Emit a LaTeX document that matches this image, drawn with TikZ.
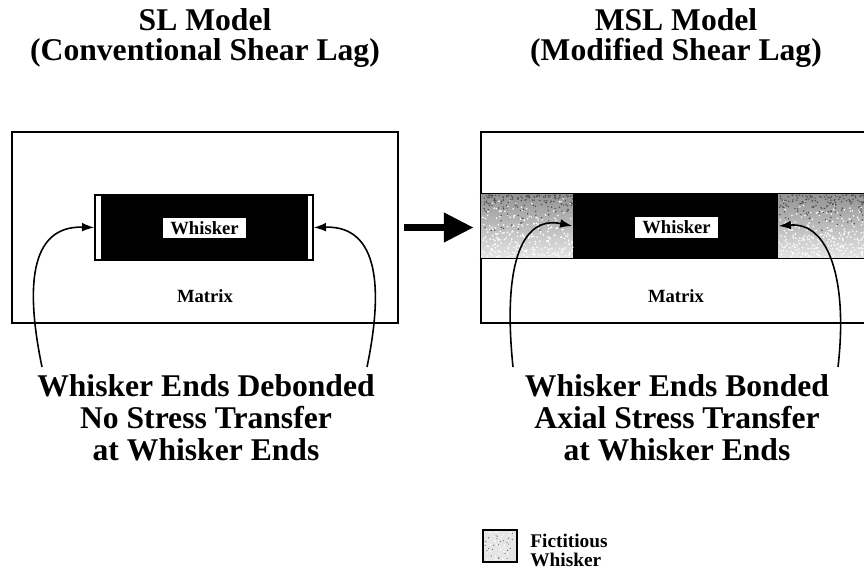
\documentclass[tikz,border=0pt]{standalone}
\usepackage{fontspec}
\setmainfont{Liberation Serif}
\usetikzlibrary{arrows.meta}

\tikzset{
  box/.style={draw, line width=1.6pt, inner sep=0pt},
  whisker/.style={draw, line width=0.8pt, inner sep=0pt},
  tag/.style={fill=white, draw, line width=0.6pt, inner sep=0pt, minimum width=1.7cm, minimum height=0.44cm, font=\fontsize{10.6}{12}\selectfont\bfseries},
  small/.style={inner sep=0pt, font=\fontsize{10.6}{12}\selectfont\bfseries},
  title/.style={align=center, inner sep=0pt, anchor=north, font=\fontsize{18}{17.4}\selectfont\bfseries},
  caption/.style={align=center, inner sep=0pt, anchor=north, font=\fontsize{18}{18.2}\selectfont\bfseries},
  endarrow/.style={line width=0.9pt, -{Latex[length=7pt,width=5pt]}},
  bigarrow/.style={line width=4pt, -{Triangle[length=17pt,width=16pt]}},
  band/.style={top color=gray!85, bottom color=gray!20},
}

\begin{document}
\begin{tikzpicture}[x=0.02cm, y=-0.02cm]
\useasboundingbox (0,0) rectangle (864,570);
\clip (0,0) rectangle (864,570);

  %% titoli
  \node[title] (sl-title) at (205,8) {SL Model\\(Conventional Shear Lag)};
  \node[title] (msl-title) at (676,8) {MSL Model\\(Modified Shear Lag)};

  %% modello SL
  \node[box, minimum width=7.72cm, minimum height=3.82cm] (sl-box) at (205,227.5) {};
  \node[whisker, fill=white, minimum width=4.36cm, minimum height=1.3cm] (sl-whisker) at (204,227.5) {};
  \fill[black] ([xshift=0.14cm]sl-whisker.north west) rectangle ([xshift=-0.12cm]sl-whisker.south east);
  \node[tag] (sl-tag) at (204.5,228) {Whisker};
  \node[small] (sl-matrix) at (205,296) {Matrix};

  %% modello MSL
  \node[box, minimum width=7.78cm, minimum height=3.82cm] (msl-box) at (675.5,227.5) {};
  \node[whisker, fill=black, minimum width=4.1cm, minimum height=1.28cm] (msl-whisker) at (675.5,226) {};
  % whisker fittizio
  \shade[band] ([xshift=0.8pt]msl-box.west |- msl-whisker.north) rectangle (msl-whisker.south west);
  \shade[band] (msl-whisker.north east) rectangle (msl-box.east |- msl-whisker.south);
  \pgfmathsetseed{7}
  \foreach \i in {1,...,260} \fill[white] ({483+90*rnd}, {195+62*sqrt(rnd)}) circle (0.9);
  \foreach \i in {1,...,260} \fill[white] ({779+90*rnd}, {195+62*sqrt(rnd)}) circle (0.9);
  \foreach \i in {1,...,160} \fill[black!70] ({483+90*rnd}, {195+40*rnd*rnd}) circle (0.8);
  \foreach \i in {1,...,160} \fill[black!70] ({779+90*rnd}, {195+40*rnd*rnd}) circle (0.8);
  \draw[line width=0.8pt] (msl-box.west |- msl-whisker.north) -- (msl-box.east |- msl-whisker.north);
  \draw[line width=0.8pt] (msl-box.west |- msl-whisker.south) -- (msl-box.east |- msl-whisker.south);
  \node[tag] (msl-tag) at (676.5,227.5) {Whisker};
  \node[small] (msl-matrix) at (676,296) {Matrix};

  %% freccia
  \draw[bigarrow, shorten <=0.1cm, shorten >=0.12cm] (sl-box.east) -- (msl-box.west);

  %% frecce alle estremita
  \coordinate (sl-a) at (42,367);
  \coordinate (sl-b) at (367,367);
  \coordinate (msl-a) at (513,367);
  \coordinate (msl-b) at (838,367);
  \draw[endarrow] (sl-a) .. controls +(-16,-77) and +(-66,-2) .. (sl-whisker.west);
  \draw[endarrow] (sl-b) .. controls +(16,-77) and +(66,-2) .. (sl-whisker.east);
  \draw[endarrow] (msl-a) .. controls +(-10,-97) and +(-53,-11) .. (msl-whisker.west);
  \draw[endarrow] (msl-b) .. controls +(10,-87) and +(50,-4) .. (msl-whisker.east);

  \node[caption] (sl-text) at (206,374) {Whisker Ends Debonded\\No Stress Transfer\\at Whisker Ends};
  \node[caption] (msl-text) at (677,374) {Whisker Ends Bonded\\Axial Stress Transfer\\at Whisker Ends};

  %% legenda
  \node[draw, line width=0.8pt, fill=gray!20, inner sep=0pt, minimum width=0.68cm, minimum height=0.64cm] (legend-box) at (500,546) {};
  \foreach \i in {1,...,40} \fill[white] ({485+30*rnd}, {532+28*rnd}) circle (0.8);
  \foreach \i in {1,...,25} \fill[black!60] ({485+30*rnd}, {532+28*rnd}) circle (0.6);
  \node[anchor=north west, align=left, inner sep=0pt, font=\fontsize{11}{10.8}\selectfont\bfseries] (legend-text) at (530,534) {Fictitious\\Whisker};
\end{tikzpicture}
\end{document}
